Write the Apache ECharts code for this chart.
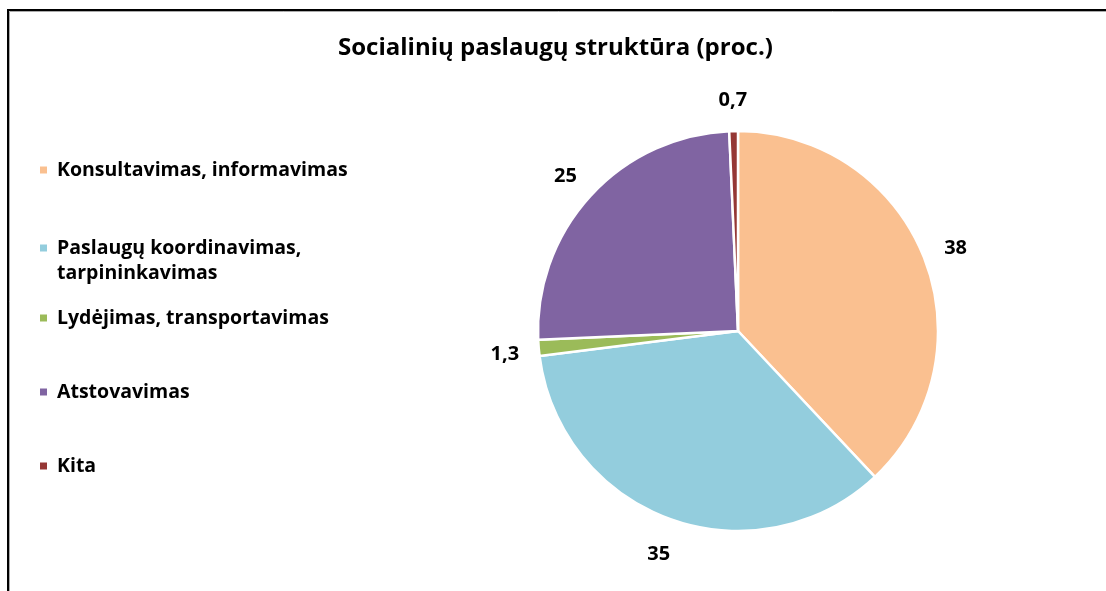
<!DOCTYPE html>
<html><head><meta charset="utf-8">
<script src="https://cdn.jsdelivr.net/npm/echarts@6/dist/echarts.min.js"></script>
<style>html,body{margin:0;padding:0;background:#fff}#c{width:1106px;height:591px}</style>
</head><body><div id="c"></div>
<script>
const categories = ['Konsultavimas, informavimas', 'Paslaugų koordinavimas, tarpininkavimas', 'Lydėjimas, transportavimas', 'Atstovavimas', 'Kita'];
const values = [38, 35, 1.3, 25, 0.7];
const colors = ['#FAC090', '#93CDDD', '#9BBB59', '#8064A2', '#953735'];
const titleText = 'Socialinių paslaugų struktūra (proc.)';

const FONT = '"Open Sans"';
const legendCenters = [170, 248, 318, 392, 466];
const LH = 25;
const legends = categories.map((name, i) => {
  const twoLine = name.indexOf('tarpininkavimas') >= 0;
  return {
    data: [name],
    orient: 'vertical',
    left: 38,
    padding: 0,
    top: legendCenters[i] - (twoLine ? 1.5 * LH : LH / 2),
    itemWidth: 9, itemHeight: 9,
    icon: 'rect',
    selectedMode: false,
    formatter: n => twoLine ? '\n' + n.replace(', ', ',\n') : n,
    textStyle: { fontFamily: FONT, fontWeight: 'bold', fontSize: 19.5, color: '#000', lineHeight: LH, padding: [0, 0, 0, 4] }
  };
});

const data = categories.map((n, i) => ({ name: n, value: values[i], itemStyle: { color: colors[i] } }));
const fmt = p => String(p.value).replace('.', ',');

const chart = echarts.init(document.getElementById('c'));
chart.setOption({
  animation: false,
  title: { text: titleText, left: 338, top: 36, padding: 0, textStyle: { fontFamily: FONT, fontWeight: 'bold', fontSize: 24, color: '#000' } },
  legend: legends,
  graphic: [
    { type: 'rect', shape: { x: 8, y: 10, width: 1300, height: 1000 }, style: { fill: 'none', stroke: '#000', lineWidth: 2 }, silent: true },
    { type: 'rect', shape: { x: 9.5, y: 11.5, width: 1300, height: 1000 }, style: { fill: 'none', stroke: '#aaa', lineWidth: 1 }, silent: true }
  ],
  series: [
    {
      type: 'pie', center: [738, 331], radius: [0, 200], startAngle: 90, clockwise: true,
      data: data,
      label: { show: false }, labelLine: { show: false },
      itemStyle: { borderColor: '#fff', borderWidth: 2.5 },
      emphasis: { disabled: true }
    },
    {
      type: 'pie', center: [738, 331], radius: [200, 262], startAngle: 90, clockwise: true,
      data: categories.map((n, i) => ({ name: n, value: values[i], itemStyle: { color: 'rgba(0,0,0,0)' } })),
      silent: true, legendHoverLink: false,
      label: { show: true, position: 'inside', formatter: fmt, offset: [0, 3], fontFamily: FONT, fontWeight: 'bold', fontSize: 20, color: '#000' },
      labelLine: { show: false },
      emphasis: { disabled: true }
    }
  ]
});
</script></body></html>
